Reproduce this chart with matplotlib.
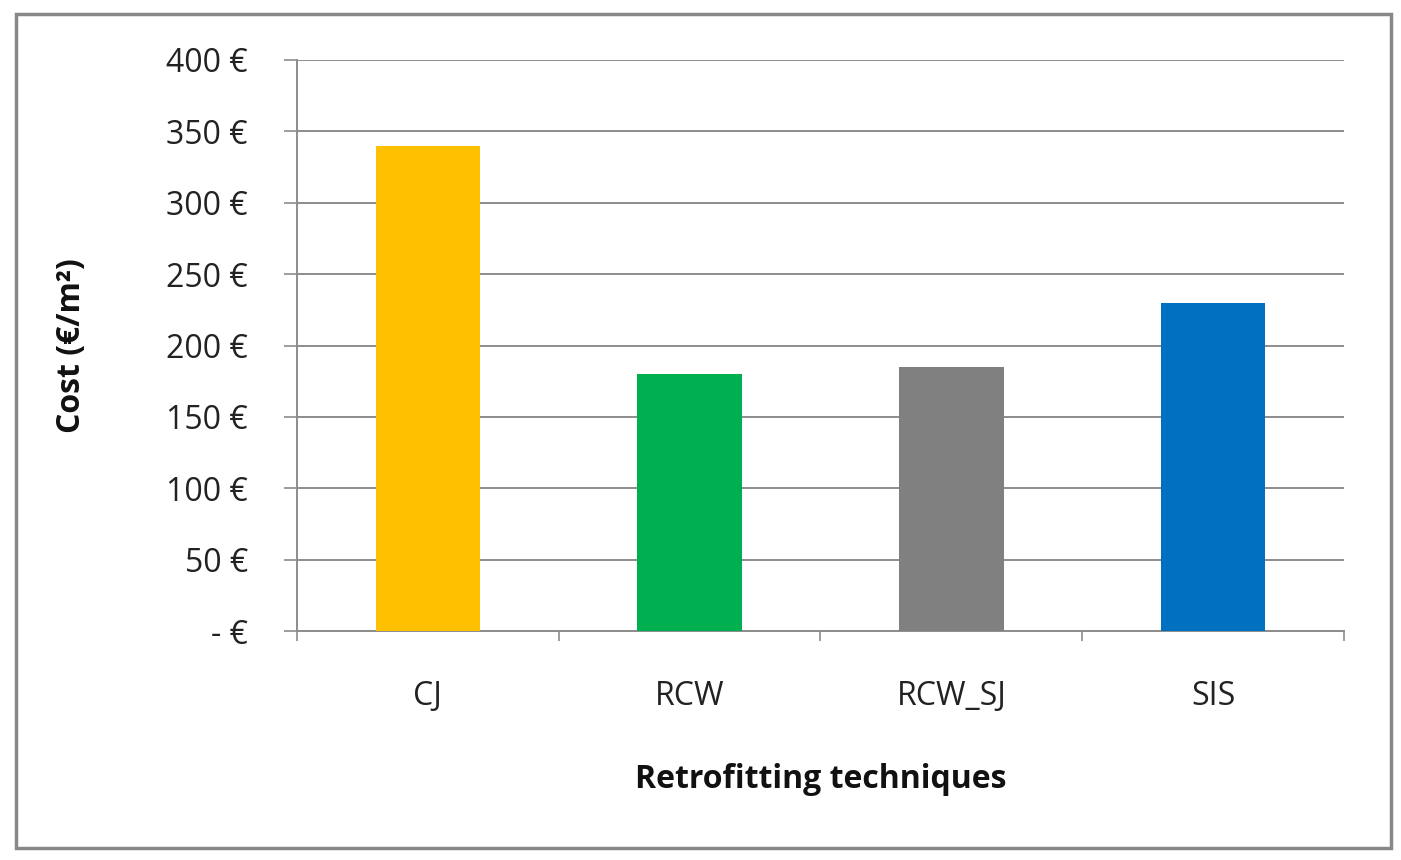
import matplotlib
matplotlib.use('Agg')
import matplotlib.pyplot as plt
from matplotlib.patches import Rectangle
from matplotlib.ticker import FuncFormatter, FixedLocator

techniques = ['CJ', 'RCW', 'RCW_SJ', 'SIS']
costs = [340, 180, 185, 230]
colors = ['#FFC000', '#00B050', '#808080', '#0070C0']
yticks = [0, 50, 100, 150, 200, 250, 300, 350, 400]

plt.rcParams['font.family'] = ['Open Sans', 'DejaVu Sans']
grey = '#8C8C8C'

fig = plt.figure(figsize=(14.01, 8.6), dpi=100)
fig.patches.append(Rectangle((16 / 1401, 1 - 848 / 860), 1375 / 1401, 834 / 860,
                             transform=fig.transFigure, fill=False,
                             edgecolor='#888888', linewidth=2.5))

ax = fig.add_axes([297 / 1401, 1 - 631 / 860, 1047 / 1401, 571 / 860])
x = list(range(len(techniques)))
ax.bar(x, costs, width=0.4, color=colors, zorder=3)
ax.set_xlim(-0.5, len(techniques) - 0.5)
ax.set_ylim(0, 400)

ax.set_yticks(yticks)
ax.yaxis.set_major_formatter(FuncFormatter(lambda v, p: '- €' if v == 0 else f'{int(v)} €'))
ax.tick_params(axis='y', length=9.4, width=1.2, color=grey, pad=26, labelsize=23, labelcolor='#222222')
ax.grid(axis='y', color=grey, linewidth=1.4, zorder=0)

ax.set_xticks(x)
ax.set_xticklabels(techniques)
ax.tick_params(axis='x', which='major', length=0, pad=35, labelsize=23, labelcolor='#222222')
ax.xaxis.set_minor_locator(FixedLocator([-0.5, 0.5, 1.5, 2.5, 3.5]))
ax.tick_params(axis='x', which='minor', length=7.5, width=1.2, color=grey, direction='out')

for s in ['top', 'right']:
    ax.spines[s].set_visible(False)
for s in ['left', 'bottom']:
    ax.spines[s].set_color(grey)
    ax.spines[s].set_linewidth(1.4)

ax.set_xlabel('Retrofitting techniques', fontsize=23, fontweight='bold', labelpad=36, color='#111111')
ax.set_ylabel('Cost (€/m²)', fontsize=23, fontweight='bold', color='#111111')
ax.yaxis.set_label_coords(-0.20, 0.5)

fig.savefig('out.png', dpi=100, facecolor='white')
